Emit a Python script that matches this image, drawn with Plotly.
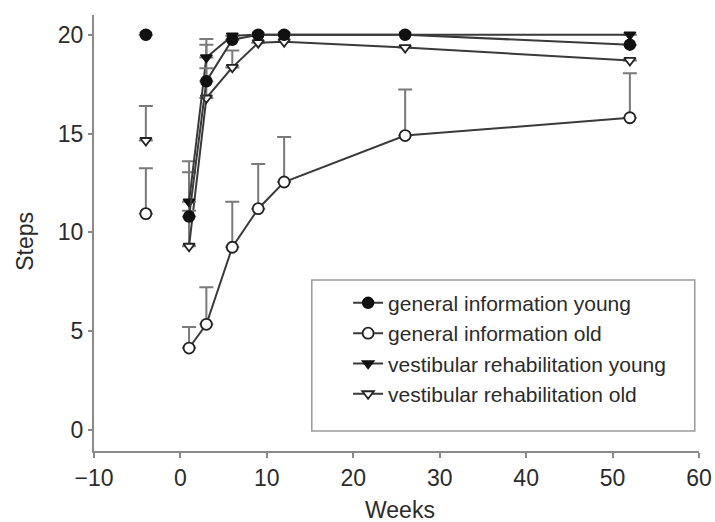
import plotly.graph_objects as go

# ---- data ----
baseline_week = -4
weeks = [1, 3, 6, 9, 12, 26, 52]

series_names = [
    "general information young",
    "general information old",
    "vestibular rehabilitation young",
    "vestibular rehabilitation old",
]

giy_base, giy_base_err = 20.0, 0.0
giy = [10.8, 17.65, 19.75, 20.0, 20.0, 20.0, 19.5]
giy_err = [0.3, 0.65, 0, 0, 0, 0, 0]

gio_base, gio_base_err = 10.95, 2.3
gio = [4.15, 5.35, 9.25, 11.2, 12.55, 14.9, 15.8]
gio_err = [1.07, 1.88, 2.3, 2.26, 2.28, 2.33, 2.25]

vry_base, vry_base_err = 20.0, 0.0
vry = [11.55, 18.85, 19.95, 20.0, 20.0, 20.0, 20.0]
vry_err = [1.5, 0.64, 0, 0, 0, 0, 0]

vro_base, vro_base_err = 14.65, 1.74
vro = [9.3, 16.8, 18.35, 19.6, 19.65, 19.35, 18.7]
vro_err = [4.3, 2.98, 0.85, 0, 0, 0, 0]

x_ticks = [-10, 0, 10, 20, 30, 40, 50, 60]
y_ticks = [0, 5, 10, 15, 20]
x_title = "Weeks"
y_title = "Steps"

# ---- styles ----
FONT = "Liberation Sans, Arial, sans-serif"
TEXT = "#2b2b2b"
AXIS = "#8a8a8a"
LINE = "#3a3a3a"
ERR = "#7a7a7a"

styles = [
    dict(symbol="circle", color="#111111", line=dict(color="#111111", width=1.5)),
    dict(symbol="circle", color="white", line=dict(color="#222222", width=1.8)),
    dict(symbol="triangle-down", color="#111111", line=dict(color="#111111", width=1.5)),
    dict(symbol="triangle-down", color="white", line=dict(color="#222222", width=1.8)),
]

data = [
    (giy_base, giy_base_err, giy, giy_err),
    (gio_base, gio_base_err, gio, gio_err),
    (vry_base, vry_base_err, vry, vry_err),
    (vro_base, vro_base_err, vro, vro_err),
]


def clean(errs):
    return [e if e > 0 else None for e in errs]


fig = go.Figure()

draw_order = [1, 3, 2, 0]
for i in draw_order:
    base, base_err, vals, errs = data[i]
    st = styles[i]
    size = 11 if st["symbol"] == "circle" else 10
    marker = dict(symbol=st["symbol"], size=size, color=st["color"], line=st["line"])
    err_style = dict(type="data", symmetric=False, thickness=2, width=7, color=ERR)
    fig.add_trace(go.Scatter(
        x=weeks, y=vals, mode="lines+markers", name=series_names[i],
        line=dict(color=LINE, width=2), marker=marker,
        error_y=dict(array=clean(errs), arrayminus=[None] * len(errs), **err_style),
        legendrank=i + 1,
    ))
    fig.add_trace(go.Scatter(
        x=[baseline_week], y=[base], mode="markers", showlegend=False,
        marker=marker,
        error_y=dict(array=clean([base_err]), arrayminus=[None], **err_style),
    ))

# legend box
fig.add_shape(type="rect", xref="paper", yref="paper",
              x0=0.36, x1=0.993, y0=0.046, y1=0.392,
              line=dict(color="#9a9a9a", width=1.5), fillcolor="rgba(0,0,0,0)")

# axis titles
fig.add_annotation(text=x_title, xref="paper", yref="paper", x=0.506, y=-0.135,
                   showarrow=False, font=dict(size=23, color=TEXT),
                   xanchor="center", yanchor="middle")
fig.add_annotation(text=y_title, xref="paper", yref="paper", x=-0.114, y=0.48,
                   showarrow=False, textangle=-90, font=dict(size=23, color=TEXT),
                   xanchor="center", yanchor="middle")

fig.update_layout(
    width=715, height=522,
    margin=dict(l=94, r=16, t=15, b=71, autoexpand=False),
    paper_bgcolor="white", plot_bgcolor="white",
    font=dict(family=FONT, color=TEXT, size=22),
    legend=dict(x=0.42, y=0.386, xanchor="left", yanchor="top",
                bgcolor="rgba(0,0,0,0)", borderwidth=0,
                font=dict(size=21, color=TEXT), tracegroupgap=0),
    xaxis=dict(range=[-10, 60], tickvals=x_ticks, showgrid=False, zeroline=False,
               showline=True, linecolor=AXIS, linewidth=2, automargin=False,
               ticks="outside", ticklen=5, tickwidth=2, tickcolor=AXIS,
               tickfont=dict(size=23, color=TEXT)),
    yaxis=dict(range=[-1.06, 21.0], tickvals=y_ticks, showgrid=False, zeroline=False,
               showline=True, linecolor=AXIS, linewidth=2, automargin=False,
               ticks="outside", ticklen=4, tickwidth=2, tickcolor=AXIS,
               tickfont=dict(size=23, color=TEXT)),
)

fig.write_html("out.html")
